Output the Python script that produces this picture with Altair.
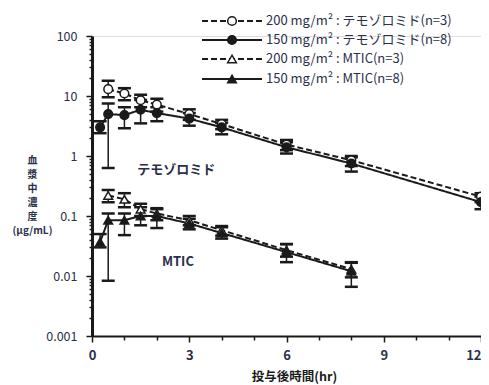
import altair as alt
import pandas as pd

# ---------------- data ----------------
series_names = [
    "200 mg/m² : テモゾロミド(n=3)",
    "150 mg/m² : テモゾロミド(n=8)",
    "200 mg/m² : MTIC(n=3)",
    "150 mg/m² : MTIC(n=8)",
]

t_tmz200 = [0.5, 1, 1.5, 2, 3, 4, 6, 8, 12]
m_tmz200 = [13.0, 11.0, 8.5, 7.2, 5.0, 3.4, 1.55, 0.85, 0.21]
lo_tmz200 = [9.5, 8.5, 6.5, 5.5, 4.0, 2.8, 1.25, 0.68, 0.17]
hi_tmz200 = [18.0, 13.5, 10.5, 9.0, 6.0, 4.0, 1.85, 1.0, 0.24]

t_tmz150 = [0.25, 0.5, 1, 1.5, 2, 3, 4, 6, 8, 12]
m_tmz150 = [3.0, 5.0, 4.8, 5.9, 5.2, 4.2, 3.0, 1.4, 0.75, 0.17]
lo_tmz150 = [2.4, 0.63, 2.9, 3.5, 3.8, 3.2, 2.3, 1.1, 0.55, 0.13]
hi_tmz150 = [3.8, 7.5, 6.5, 8.6, 6.5, 5.2, 3.6, 1.7, 0.95, 0.21]

t_mtic200 = [0.5, 1, 1.5, 2, 3, 4, 6, 8]
m_mtic200 = [0.22, 0.19, 0.13, 0.11, 0.085, 0.058, 0.027, 0.013]
lo_mtic200 = [0.17, 0.14, 0.10, 0.085, 0.07, 0.047, 0.021, 0.0095]
hi_mtic200 = [0.27, 0.24, 0.16, 0.135, 0.10, 0.068, 0.034, 0.017]

t_mtic150 = [0.25, 0.5, 1, 1.5, 2, 3, 4, 6, 8]
m_mtic150 = [0.037, 0.085, 0.085, 0.10, 0.10, 0.075, 0.052, 0.025, 0.012]
lo_mtic150 = [0.03, 0.0083, 0.048, 0.07, 0.063, 0.06, 0.042, 0.017, 0.0066]
hi_mtic150 = [0.05, 0.11, 0.11, 0.14, 0.13, 0.09, 0.065, 0.034, 0.0166]

ann_text = ["テモゾロミド", "MTIC"]
ann_x = [2.6, 2.65]
ann_y = [0.58, 0.017]

x_major = [0, 3, 6, 9, 12]
x_minor = list(range(0, 13))
x_title = "投与後時間(hr)"
y_title = ["血", "漿", "中", "濃", "度", "(μg/mL)"]

# ---------------- build table ----------------
rows = []
for name, ts, ms, los, his in [
    (series_names[0], t_tmz200, m_tmz200, lo_tmz200, hi_tmz200),
    (series_names[1], t_tmz150, m_tmz150, lo_tmz150, hi_tmz150),
    (series_names[2], t_mtic200, m_mtic200, lo_mtic200, hi_mtic200),
    (series_names[3], t_mtic150, m_mtic150, lo_mtic150, hi_mtic150),
]:
    for t, m, lo, hi in zip(ts, ms, los, his):
        rows.append({"series": name, "t": t, "m": m, "lo": lo, "hi": hi})
df = pd.DataFrame(rows)

FONT = "Noto Sans CJK JP"
INK = "#1a1a1a"
LBL = "#2a2f4a"

dash_scale = alt.Scale(domain=series_names, range=[[6, 3], [1, 0], [6, 3], [1, 0]])
shape_scale = alt.Scale(domain=series_names,
                        range=["circle", "circle", "triangle-up", "triangle-up"])
fill_scale = alt.Scale(domain=series_names, range=["white", INK, "white", INK])

y_ticks = []
for k in range(-3, 2):
    for d in range(1, 10):
        y_ticks.append(float(f"{d}e{k}"))
y_ticks.append(100.0)

is_decade = "abs(log(datum.value)/LN10 - round(log(datum.value)/LN10)) < 0.01"
is_major_x = "indexof([" + ",".join(str(v) for v in x_major) + "], datum.value) >= 0"

x_axis = alt.Axis(
    values=x_minor,
    labelExpr=f"{is_major_x} ? datum.label : ''",
    labelOverlap=False,
    labelFlush=False,
    labelBound=False,
    labelAlign={"condition": {"test": "datum.value == 12", "value": "right"}, "value": "center"},
    tickSize={"condition": {"test": is_major_x, "value": 6}, "value": 4},
    tickWidth=1.5,
    tickColor=INK,
    domainColor=INK,
    domainWidth=2,
    grid=False,
    labelFont=FONT,
    labelFontSize=13,
    labelFontWeight="bold",
    labelColor=LBL,
    labelPadding=7,
    title=x_title,
    titleFont=FONT,
    titleFontSize=12.5,
    titleFontWeight="bold",
    titleColor=INK,
    titleX=202,
    titleY=40,
    titleBaseline="middle",
    titleAnchor="start",
    titleAlign="center",
)

y_axis = alt.Axis(
    values=y_ticks,
    labelExpr=f"{is_decade} ? datum.value + '' : ''",
    labelOverlap=False,
    tickSize={"condition": {"test": is_decade, "value": 6}, "value": 3},
    tickWidth=1.5,
    tickColor=INK,
    domainColor=INK,
    domainWidth=3,
    grid=False,
    labelFont=FONT,
    labelFontSize=12.5,
    labelColor=LBL,
    labelPadding=9,
    title=y_title,
    titleFont=FONT,
    titleFontSize=10,
    titleFontWeight="bold",
    titleColor=LBL,
    titleAngle=0,
    titleX=-60,
    titleY=119,
    titleAlign="center",
    titleBaseline="top",
    titleLineHeight=14,
)

x_scale = alt.Scale(domain=[0, 12], nice=False)
y_scale = alt.Scale(type="log", domain=[0.001, 100], nice=False)

base = alt.Chart(df)

lines = base.mark_line(color=INK, strokeWidth=2).encode(
    x=alt.X("t:Q", scale=x_scale, axis=x_axis),
    y=alt.Y("m:Q", scale=y_scale, axis=y_axis),
    strokeDash=alt.StrokeDash("series:N", scale=dash_scale, legend=None),
    detail="series:N",
)

err = base.mark_rule(color=INK, strokeWidth=1.5).encode(
    x=alt.X("t:Q", axis=x_axis), y=alt.Y("lo:Q", axis=y_axis), y2="hi:Q"
)
cap_lo = base.mark_tick(color=INK, orient="horizontal", thickness=2.5, size=13,
                        opacity=1).encode(x=alt.X("t:Q", axis=x_axis),
                                          y=alt.Y("lo:Q", axis=y_axis))
cap_hi = base.mark_tick(color=INK, orient="horizontal", thickness=2.5, size=13,
                        opacity=1).encode(x=alt.X("t:Q", axis=x_axis),
                                          y=alt.Y("hi:Q", axis=y_axis))

points = base.mark_point(filled=True, stroke=INK, strokeWidth=1.5, size=75, opacity=1).encode(
    x=alt.X("t:Q", axis=x_axis), y=alt.Y("m:Q", axis=y_axis),
    shape=alt.Shape("series:N", scale=shape_scale, legend=None),
    fill=alt.Fill("series:N", scale=fill_scale, legend=None),
)

ann_df = pd.DataFrame({"text": ann_text, "x": ann_x, "y": ann_y})
ann = alt.Chart(ann_df).mark_text(
    font=FONT, fontSize=13, fontWeight="bold", color=LBL
).encode(x=alt.X("x:Q", axis=x_axis), y=alt.Y("y:Q", axis=y_axis), text="text:N")

# ---------------- manual legend ----------------
leg_layers = []
leg_y = [-15, 4, 23, 43]
leg_dash = [[6, 3], [1, 0], [6, 3], [1, 0]]
leg_shape = ["circle", "circle", "triangle-up", "triangle-up"]
leg_fill = ["white", INK, "white", INK]
for i, name in enumerate(series_names):
    ldf = pd.DataFrame({"label": [name]})
    lc = alt.Chart(ldf)
    leg_layers.append(
        lc.mark_rule(color=INK, strokeWidth=2, strokeDash=leg_dash[i]).encode(
            x=alt.value(110), x2=alt.value(170), y=alt.value(leg_y[i])
        )
    )
    leg_layers.append(
        lc.mark_point(filled=True, fill=leg_fill[i], stroke=INK, strokeWidth=1.5,
                      size=75, shape=leg_shape[i], opacity=1).encode(
            x=alt.value(140), y=alt.value(leg_y[i])
        )
    )
    leg_layers.append(
        lc.mark_text(font=FONT, fontSize=13, color=LBL, align="left",
                     baseline="middle").encode(
            x=alt.value(174), y=alt.value(leg_y[i]), text="label:N"
        )
    )

chart = alt.layer(lines, err, cap_lo, cap_hi, points, ann, *leg_layers).properties(
    width=389,
    height=300,
    autosize=alt.AutoSizeParams(type="none"),
    padding={"left": 84, "top": 28, "right": 0, "bottom": 48},
).configure_view(stroke=None).configure_axis(
    labelOverlap=False
).configure(background="white")

chart.save("out.html", embed_options={"renderer": "svg", "actions": False})
